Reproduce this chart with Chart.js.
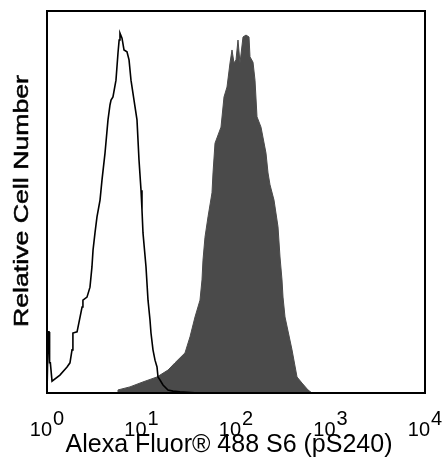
<!DOCTYPE html>
<html>
<head>
<meta charset="utf-8">
<script src="https://cdn.jsdelivr.net/npm/chart.js@4/dist/chart.umd.min.js"></script>
<style>
html,body{margin:0;padding:0;background:#fff;}
#wrap{width:444px;height:457px;}
</style>
</head>
<body>
<div id="wrap"><canvas id="c" width="444" height="457"></canvas></div>
<script>
// Fluorescence channel values (log axis) and relative counts
const controlX = [1.00,1.03,1.05,1.065,1.085,1.13,1.37,1.63,1.75,1.84,1.88,2.08,2.35,2.40,2.65,2.85,2.99,3.07,3.22,3.38,3.64,3.82,4.11,4.42,4.64,4.76,4.99,5.37,5.64,5.80,5.92,6.22,6.53,7.02,7.38,7.74,8.33,8.96,9.41,9.88,10.12,10.37,11.16,11.72,12.30,12.60,13.23,13.90,14.59,14.95,15.70,16.89,19.07,21.54,25.55,40,10000];
const controlY = [0,16.0,16.0,7.9,7.9,3.1,4.7,6.8,7.9,11.3,15.7,16.0,22.5,24.3,25.1,27.7,33.0,37.4,41.9,46.1,50.5,55.8,62.8,71.5,75.4,76.7,77.5,81.9,89.0,92.4,94.2,92.9,89.8,89.3,87.2,81.9,76.7,71.5,61.0,53.1,47.9,41.9,33.0,24.3,19.1,15.7,11.3,8.6,6.8,4.2,3.4,2.1,0.8,0.5,0.3,0,0];

const sampleX = [5.51,5.64,7.55,10.37,14.59,19.07,22.62,28.86,32.61,36.83,41.59,43.67,44.75,46.98,50.55,55.72,57.10,59.95,69.38,74.65,80.32,86.42,90.73,95.24,100,104.99,110.24,118.61,127.60,137.29,140.67,151.35,158.90,166.81,183.92,207.71,218.17,228.98,252.43,278.26,292.18,306.85,314.41,330.06,391.42,442.22,499.40,578.05,637];
const sampleY = [0,0.8,1.6,2.9,4.2,6.0,7.9,10.5,14.7,19.9,24.3,29.6,34.8,40.8,46.1,52.4,57.6,65.4,69.6,77.5,80.1,86.4,89.8,86.4,87.2,92.4,86.4,93.2,93.7,93.2,88.0,86.6,81.9,72.3,69.6,62.8,57.6,54.5,50.5,43.5,35.6,29.6,25.1,19.9,11.3,4.2,2.6,0.8,0];

const tickExponents = ["0","1","2","3","4"];
const tickBase = "10";
const xTitle = "Alexa Fluor\u00AE 488 S6 (pS240)";
const yTitle = "Relative Cell Number";

const pts = (xs, ys) => xs.map((x, i) => ({x: x, y: ys[i]}));

const decor = {
  id: 'decor',
  afterDraw(chart) {
    const ctx = chart.ctx;
    const a = chart.chartArea;
    const xs = chart.scales.x;
    ctx.save();
    // frame
    ctx.strokeStyle = '#000';
    ctx.lineWidth = 2;
    ctx.strokeRect(a.left, a.top, a.right - a.left, a.bottom - a.top);
    // tick labels 10^n
    ctx.fillStyle = '#000';
    ctx.font = '20px "Liberation Sans", Arial, sans-serif';
    ctx.textBaseline = 'alphabetic';
    ctx.textAlign = 'left';
    tickExponents.forEach(e => {
      const px = xs.getPixelForValue(Math.pow(10, Number(e)));
      const w1 = ctx.measureText(tickBase).width;
      const w2 = ctx.measureText(e).width;
      const start = px - (w1 + w2 + 1) / 2;
      ctx.fillText(tickBase, start, 436);
      ctx.fillText(e, start + w1 + 1, 425);
    });
    // x title
    ctx.font = '25px "Liberation Sans", Arial, sans-serif';
    ctx.textAlign = 'center';
    ctx.fillText(xTitle, 229, 452);
    // y title
    ctx.translate(28, 201);
    ctx.rotate(-Math.PI / 2);
    ctx.font = '21px "Liberation Sans", Arial, sans-serif';
    const wy = ctx.measureText(yTitle).width;
    ctx.scale(252 / wy, 1);
    ctx.textAlign = 'center';
    ctx.lineWidth = 0.5;
    ctx.strokeStyle = '#000';
    ctx.fillText(yTitle, 0, 0);
    ctx.strokeText(yTitle, 0, 0);
    ctx.restore();
  }
};

new Chart(document.getElementById('c'), {
  type: 'line',
  data: {
    datasets: [
      {
        label: 'Control',
        data: pts(controlX, controlY),
        borderColor: '#000',
        borderWidth: 1.6,
        pointRadius: 0,
        fill: false,
        tension: 0
      },
      {
        label: 'S6 (pS240)',
        data: pts(sampleX, sampleY),
        borderColor: '#4a4a4a',
        backgroundColor: '#4a4a4a',
        borderWidth: 1,
        pointRadius: 0,
        fill: 'origin',
        tension: 0
      }
    ]
  },
  options: {
    responsive: false,
    animation: false,
    layout: {padding: {left: 47, top: 11, right: 19, bottom: 64}},
    plugins: {legend: {display: false}, tooltip: {enabled: false}},
    scales: {
      x: {type: 'logarithmic', min: 1, max: 10000, display: false},
      y: {type: 'linear', min: 0, max: 100, display: false}
    }
  },
  plugins: [decor]
});
</script>
</body>
</html>
